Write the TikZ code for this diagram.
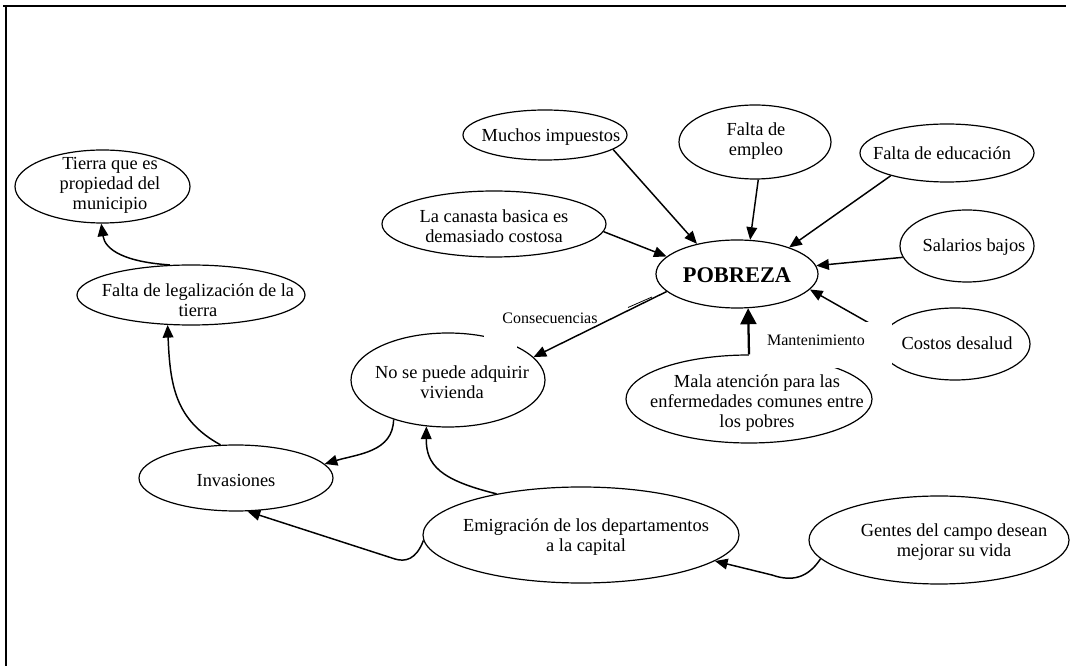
\documentclass[tikz,border=0pt]{standalone}
\usepackage{fontspec}
\setmainfont{Liberation Serif}
\usetikzlibrary{shapes.geometric,arrows.meta}
\begin{document}
\begin{tikzpicture}[x=0.75pt,y=-0.75pt,
  bubble/.style={ellipse, draw, line width=0.9pt, inner sep=0pt},
  size/.style 2 args={minimum width=1.5pt*#1, minimum height=1.5pt*#2},
  txt/.style={inner sep=0pt, align=center, font=\fontsize{13.8}{14.8}\selectfont},
  tag/.style={inner sep=0pt, font=\fontsize{12}{14}\selectfont},
  link/.style={line width=1.1pt, -{Triangle[length=9.5pt,width=8pt]}},
  bigarrow/.style={line width=1.7pt, -{Triangle[length=12pt,width=12pt]}},
  mask/.style={fill=white, draw=none}]
\useasboundingbox (0,0) rectangle (1072,666);

% page frame
\draw[line width=1.7pt] (3,6) -- (1066,6);
\draw[line width=1.7pt] (6,5.2) -- (6,666);

% concept bubbles
\node[bubble, size={87.5}{36.5}] (tierra) at (102.5,186.5) {};
\node[txt] at (110,185.5) {Tierra que es\\propiedad del\\municipio};

\node[bubble, size={114}{30}] (legal) at (191,295) {};
\node[txt] at (198,300) {Falta de legalización de la\\tierra};

\node[bubble, size={82}{25}] (muchos) at (545,135) {};
\node[txt] at (551,137) {Muchos impuestos};

\node[bubble, size={76}{37}] (empleo) at (755,142) {};
\node[txt] at (756,141) {Falta de\\empleo};

\node[bubble, size={87}{29}] (educ) at (947,153) {};
\node[txt] at (942,153) {Falta de educación};

\node[bubble, size={112}{33}] (canasta) at (494,224) {};
\node[txt] at (494,226) {La canasta basica es\\demasiado costosa};

\node[bubble, size={81}{34}] (pob) at (737,274) {};
\node[inner sep=0pt, font=\fontsize{16.8}{18}\selectfont\bfseries] at (737,275) {POBREZA};

\node[bubble, size={67}{36}] (salar) at (967,246) {};
\node[txt] at (974,247) {Salarios bajos};

\node[bubble, size={75}{36}] (costos) at (955,344) {};
\node[txt] at (957,343) {Costos desalud};

\node[bubble, size={97}{47}] (nose) at (448,380) {};
\node[txt] at (452,382) {No se puede adquirir\\vivienda};

\node[bubble, size={123}{44}] (mala) at (749,399) {};
\node[txt] at (757,403) {Mala atención para las\\enfermedades comunes entre\\los pobres};

\node[bubble, size={97}{33}] (invas) at (236,478) {};
\node[txt] at (236,480) {Invasiones};

\node[bubble, size={158}{48}] (emig) at (581,535) {};
\node[txt] at (586,537) {Emigración de los departamentos\\a la capital};

\node[bubble, size={130}{44}] (gentes) at (939,540) {};
\node[txt] at (954,542) {Gentes del campo desean\\mejorar su vida};

% causes of poverty
\draw[link] (muchos.-12) -- (pob.143);
\draw[link] (canasta.-4.6) -- (pob.166);
\draw[link] (empleo.-85) -- (pob.69);
\draw[link] (educ.202) -- (pob.27);
\draw[link] (salar.190) -- (pob.6.4);
\draw[link] (costos.170.7) -- (pob.-12.8);

% consequences
\draw[link] (pob.194.4) -- (nose.15.7);
\draw[line width=0.6pt] (628,307.5) -- (652,297);
\draw[link] (nose.216) .. controls (393,452) and (358,454) .. (invas.9.6);
\draw[link] (emig.154.7) .. controls (440,480) and (426,465) .. (nose.245.8);
\draw[link] (emig.182.9) .. controls (416,560) and (405,562) .. (395,559) -- (invas.-71);
\draw[link] (invas.115.9) .. controls (175,420) and (170,385) .. (legal.232.5);
\draw[link] (gentes.189.5) .. controls (808,578) and (792,582) .. (772,575) -- (emig.-11.1);
\draw[link] (legal.125.7) .. controls (125,262) and (105,250) .. (tierra.-92);

% label backgrounds
\fill[mask] (749,322) rectangle (892,368);
\fill[mask] (484,325) rectangle (517,349);

% edge labels
\node[tag] at (550,318) {Consecuencias};
\node[tag] at (816,340) {Mantenimiento};
\draw[bigarrow] (mala.north) -- (pob.-72);
\end{tikzpicture}
\end{document}
